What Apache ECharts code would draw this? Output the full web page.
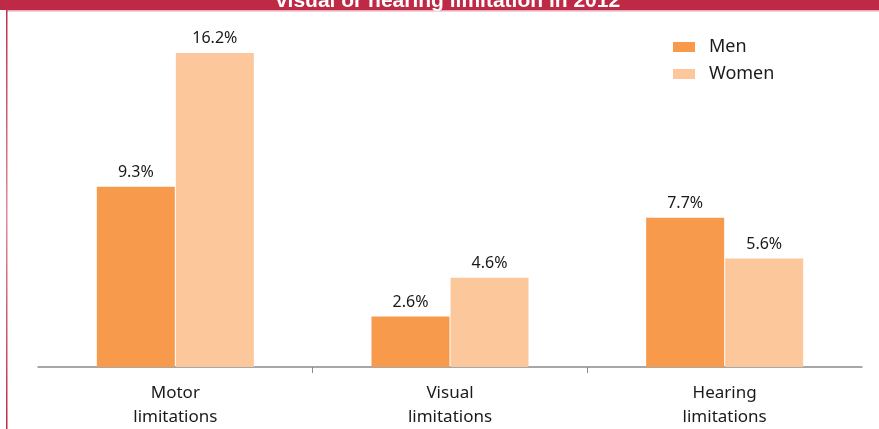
<!DOCTYPE html>
<html>
<head>
<meta charset="utf-8">
<script src="https://cdn.jsdelivr.net/npm/echarts@6/dist/echarts.min.js"></script>
<style>
html,body{margin:0;padding:0;background:#fff;}
#c{width:879px;height:429px;}
</style>
</head>
<body>
<div id="c"></div>
<script>
const categories = ['Motor\nlimitations', 'Visual\nlimitations', 'Hearing\nlimitations'];
const seriesNames = ['Men', 'Women'];
const menValues = [9.3, 2.6, 7.7];
const womenValues = [16.2, 4.6, 5.6];
const titleText = 'visual or hearing limitation in 2012';
const boundaryTicks = [1, 2];

const chart = echarts.init(document.getElementById('c'));
const FONT = '"Noto Sans", "Liberation Sans", sans-serif';
const labelCfg = {
  show: true, position: 'top', distance: 6,
  formatter: p => p.value.toFixed(1) + '%',
  fontFamily: FONT, fontSize: 16, color: '#1a1a1a'
};
chart.setOption({
  animation: false,
  backgroundColor: '#fff',
  graphic: [
    { type: 'rect', shape: { x: 0, y: 0, width: 879, height: 10 }, style: { fill: '#BE2A45' }, z: 10 },
    { type: 'rect', shape: { x: 7, y: 10, width: 872, height: 1.5 }, style: { fill: '#E7A9B5' }, z: 10 },
    { type: 'rect', shape: { x: 6, y: 0, width: 1.5, height: 429 },
      style: { fill: new echarts.graphic.LinearGradient(0, 0, 0, 1, [
        { offset: 0, color: '#BE2A45' }, { offset: 0.5, color: '#E08A9C' }, { offset: 1, color: '#BE2A45' }]) }, z: 10 },
    { type: 'text', x: 448, y: 12, z: 11,
      style: { text: titleText, fill: '#fff', font: 'bold 21px "Liberation Sans", sans-serif',
               textAlign: 'center', verticalAlign: 'bottom' } }
  ],
  legend: {
    orient: 'vertical', left: 668, top: 33,
    itemWidth: 22, itemHeight: 10, itemGap: 9,
    icon: 'rect',
    textStyle: { fontFamily: FONT, fontSize: 18, color: '#1a1a1a', lineHeight: 18, padding: [0, 0, 0, 9] },
    data: seriesNames
  },
  grid: { left: 38, right: 17, top: 18, bottom: 60 },
  xAxis: [{
    type: 'category', data: categories,
    axisLine: { lineStyle: { color: '#8a8a8a', width: 1.5 } },
    axisTick: { show: false },
    axisLabel: { fontFamily: FONT, fontSize: 17, color: '#1a1a1a', lineHeight: 24, margin: 14 }
  }, {
    type: 'value', min: 0, max: categories.length, position: 'bottom',
    axisLine: { show: false },
    axisTick: { show: true, length: 6, lineStyle: { color: '#8a8a8a' }, customValues: boundaryTicks },
    axisLabel: { show: false },
    splitLine: { show: false }
  }],
  yAxis: { type: 'value', min: 0, max: 18, show: false, splitLine: { show: false } },
  series: [
    { name: seriesNames[0], type: 'bar', data: menValues, barWidth: 78, barGap: '1.3%',
      itemStyle: { color: '#F79A4C' }, label: labelCfg },
    { name: seriesNames[1], type: 'bar', data: womenValues, barWidth: 78,
      itemStyle: { color: '#FCC89B' }, label: labelCfg }
  ]
});
</script>
</body>
</html>
